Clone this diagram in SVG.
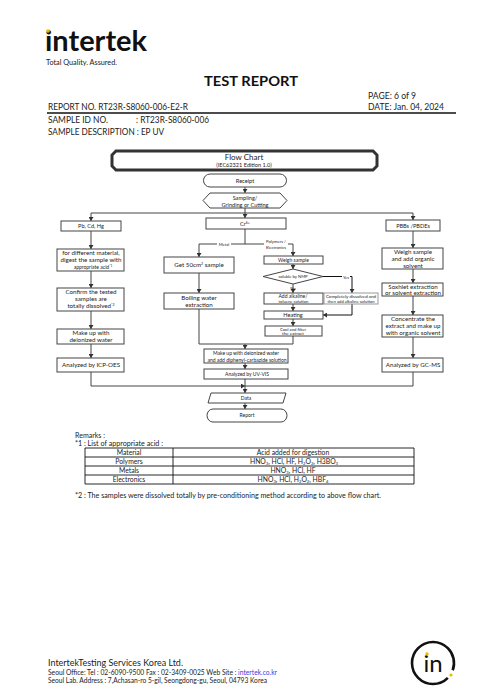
<svg xmlns="http://www.w3.org/2000/svg" width="500" height="700" viewBox="0 0 500 700">
<style>
text{font-family:Lato,"Open Sans",sans-serif;fill:#222}
.h{font-size:8.6px}
.l{font-size:6.2px;text-anchor:middle}
.m{font-size:5.6px;text-anchor:middle}
.s{font-size:5px;text-anchor:middle}
.xs{font-size:4.2px;text-anchor:middle}
.r{font-size:6.8px}
.f{font-size:6.6px}
.b{fill:#fff;stroke:#444;stroke-width:1}
.c{fill:none;stroke:#444;stroke-width:1}
.d{fill:none;stroke:#111;stroke-width:1}
.g{fill:none;stroke:#111;stroke-width:.9}
</style>
<defs>
<marker id="a" markerUnits="userSpaceOnUse" markerWidth="5" markerHeight="5" refX="4" refY="2.500" orient="auto"><path d="M0 0L4 2.500L0 5Z" fill="#333"/></marker>
</defs>
<rect width="500" height="700" fill="#fff"/>
<g id="header">
<text x="45" y="51" style="font-size:29px;font-weight:700;fill:#111" textLength="102" lengthAdjust="spacingAndGlyphs">intertek</text>
<circle cx="48" cy="31" r="1.800" fill="#f5b800"/>
<text x="46" y="64.500" style="font-size:6.800px" textLength="71" lengthAdjust="spacingAndGlyphs">Total Quality. Assured.</text>
<text x="204" y="86" style="font-size:14px;font-weight:700;fill:#111" textLength="94" lengthAdjust="spacingAndGlyphs">TEST REPORT</text>
<text x="368" y="99" class="h" textLength="48" lengthAdjust="spacingAndGlyphs">PAGE: 6 of 9</text>
<text x="368" y="110" class="h" textLength="76" lengthAdjust="spacingAndGlyphs">DATE: Jan. 04, 2024</text>
<text x="48" y="110" class="h" textLength="140" lengthAdjust="spacingAndGlyphs">REPORT NO. RT23R-S8060-006-E2-R</text>
<line x1="47" y1="113" x2="456" y2="113" stroke="#111" stroke-width="1.600"/>
<text x="48" y="123" class="h" textLength="60" lengthAdjust="spacingAndGlyphs">SAMPLE ID NO.</text>
<text x="136" y="123" class="h" textLength="73" lengthAdjust="spacingAndGlyphs">: RT23R-S8060-006</text>
<text x="48" y="135" class="h" textLength="116" lengthAdjust="spacingAndGlyphs">SAMPLE DESCRIPTION : EP UV</text>
</g>
<g id="connectors">
<path class="c" marker-end="url(#a)" d="M245 187V193"/>
<path class="c" d="M245 208V213"/>
<path class="c" marker-end="url(#a)" d="M245 213V218"/>
<path class="c" marker-end="url(#a)" d="M245 213H91V221"/>
<path class="c" marker-end="url(#a)" d="M245 213H413V220"/>
<path class="c" marker-end="url(#a)" d="M91 231V249"/>
<path class="c" marker-end="url(#a)" d="M91 271V288"/>
<path class="c" marker-end="url(#a)" d="M91 311V329"/>
<path class="c" marker-end="url(#a)" d="M91 344V358"/>
<path class="c" d="M245 229V244"/>
<path class="c" marker-end="url(#a)" d="M245 244H199V257"/>
<path class="c" marker-end="url(#a)" d="M245 244H293V256"/>
<path class="c" marker-end="url(#a)" d="M199 273V293"/>
<path class="c" marker-end="url(#a)" d="M199 309V344H245V349"/>
<path class="c" d="M293 336V344H245"/>
<path class="c" marker-end="url(#a)" d="M293 264V269"/>
<path class="c" marker-end="url(#a)" d="M293 284V293"/>
<path class="c" marker-end="url(#a)" d="M293 304V311"/>
<path class="c" marker-end="url(#a)" d="M293 319V326"/>
<path class="d" marker-end="url(#a)" d="M323 276.500H352V293"/>
<path class="d" marker-end="url(#a)" d="M352 304V315H323"/>
<path class="c" marker-end="url(#a)" d="M245 363V369"/>
<path class="c" marker-end="url(#a)" d="M245 379V393"/>
<path class="c" marker-end="url(#a)" d="M91 372V386H245"/>
<path class="c" d="M413 372V386H245"/>
<path class="c" marker-end="url(#a)" d="M245 403V409"/>
<path class="c" marker-end="url(#a)" d="M413 231V248"/>
<path class="c" marker-end="url(#a)" d="M413 269V283"/>
<path class="c" marker-end="url(#a)" d="M413 296V315"/>
<path class="c" marker-end="url(#a)" d="M413 337V358"/>
</g>
<g id="edge-labels">
<rect x="217" y="241" width="14" height="5" fill="#fff"/>
<text x="224" y="245.500" class="xs">Metal</text>
<rect x="264" y="239" width="24" height="10" fill="#fff"/>
<text x="276" y="243" class="xs">Polymers /</text>
<text x="276" y="248.500" class="xs">Electronics</text>
<rect x="342" y="274" width="8" height="5" fill="#fff"/>
<text x="346" y="278.500" class="xs">Yes</text>
<text x="293" y="289.500" class="xs">No</text>
</g>
<g id="n-title"><path d="M116 151H373L377 155V166L373 170H116L112 166V155Z" fill="#fff" stroke="#333" stroke-width="3"/><text x="244" y="160" style="font-size:8px;text-anchor:middle">Flow Chart</text><text x="244" y="167" class="m">(IEC62321 Edition 1.0)</text></g>
<g id="n-receipt"><path class="b" d="M210 174H280A6.500 6.500 0 0 1 280 187H210A6.500 6.500 0 0 1 210 174Z"/><text x="245" y="182.500" class="m">Receipt</text></g>
<g id="n-sampling"><path class="b" d="M210 193H280L287 200.500L280 208H210L203 200.500Z"/><text x="245" y="199.500" class="m">Sampling/</text><text x="245" y="206.500" class="m">Grinding or Cutting</text></g>
<g id="n-pb"><rect class="b" x="61" y="221" width="60" height="10"/><text x="91" y="228" class="m">Pb, Cd, Hg</text></g>
<g id="n-cr"><rect class="b" x="206" y="218" width="80" height="11"/><text x="245" y="225.500" class="m">Cr<tspan font-size="3.500" dy="-2">6+</tspan></text></g>
<g id="n-pbb"><rect class="b" x="386" y="220" width="54" height="11"/><text x="413" y="227.500" class="m">PBBs /PBDEs</text></g>
<g id="n-digest"><rect class="b" x="57" y="249" width="67" height="22"/><text x="91" y="255" class="l">for different material,</text><text x="91" y="262" class="l">digest the sample with</text><text x="93" y="269" class="s">appropriate acid<tspan font-size="3.200" dy="-2">*1</tspan></text></g>
<g id="n-confirm"><rect class="b" x="57" y="288" width="67" height="23"/><text x="91" y="294" class="l">Confirm the tested</text><text x="91" y="301" class="l">samples are</text><text x="91" y="308" class="l">totally dissolved<tspan font-size="3.500" dy="-2">*2</tspan></text></g>
<g id="n-makeup"><rect class="b" x="57" y="329" width="67" height="15"/><text x="91" y="335" class="l">Make up with</text><text x="91" y="342" class="l">deionized water</text></g>
<g id="n-icp"><rect class="b" x="57" y="358" width="67" height="14"/><text x="91" y="367" class="l">Analyzed by ICP-OES</text></g>
<g id="n-get"><rect class="b" x="164" y="257" width="70" height="16"/><text x="199" y="267" class="l">Get 50cm<tspan font-size="3.500" dy="-2">2</tspan><tspan dy="2"> sample</tspan></text></g>
<g id="n-boil"><rect class="b" x="164" y="293" width="70" height="16"/><text x="199" y="299.500" class="l">Boiling water</text><text x="199" y="306.500" class="l">extraction</text></g>
<g id="n-weigh"><rect class="b" x="264" y="256" width="59" height="8"/><text x="293.500" y="261.800" class="s">Weigh sample</text></g>
<g id="n-soluble"><path class="b" d="M293 269L323 276.500L293 284L263 276.500Z"/><text x="293" y="278" class="xs">soluble by NMP</text></g>
<g id="n-alk"><rect class="b" x="264" y="293" width="59" height="11"/><text x="293" y="298" class="s">Add alkaline/</text><text x="293.500" y="303" class="xs">toluene solution</text></g>
<g id="n-dissolved"><rect x="324" y="293" width="54" height="11" fill="#fff" stroke="#999"/><text x="351" y="298" class="s" style="font-size:4.500px">Completely dissolved and</text><text x="351" y="303" class="xs">then add alkaline solution</text></g>
<g id="n-heat"><rect class="b" x="264" y="311" width="59" height="8"/><text x="293" y="317" class="m">Heating</text></g>
<g id="n-cool"><rect class="b" x="265" y="326" width="57" height="10"/><text x="293" y="330.500" class="xs">Cool and filter</text><text x="293" y="335" class="s" style="font-size:4.600px">the extract</text></g>
<g id="n-dpc"><rect class="b" x="204" y="349" width="84" height="14"/><text x="246" y="355" class="s">Make up with deionized water</text><text x="247" y="361.500" class="s">and add diphenyl-carbazide solution</text></g>
<g id="n-uv"><rect class="b" x="204" y="369" width="84" height="10"/><text x="247" y="375.800" class="s">Analyzed by UV-VIS</text></g>
<g id="n-data"><path class="b" d="M211 393H286L283 403H208Z"/><text x="246" y="400" class="s">Data</text></g>
<g id="n-report"><path class="b" d="M213 409H281A6 6.500 0 0 1 281 422H213A6 6.500 0 0 1 213 409Z"/><text x="247" y="417" class="s">Report</text></g>
<g id="n-weigh2"><rect class="b" x="382" y="248" width="61" height="21"/><text x="413" y="253.500" class="l">Weigh sample</text><text x="413" y="260.500" class="l">and add organic</text><text x="413" y="267.500" class="l">solvent</text></g>
<g id="n-soxhlet"><rect class="b" x="382" y="283" width="61" height="13"/><text x="413" y="288.500" class="l">Soxhlet extraction</text><text x="413" y="294.500" class="l">or solvent extraction</text></g>
<g id="n-conc"><rect class="b" x="382" y="315" width="61" height="22"/><text x="413" y="320.500" class="l">Concentrate the</text><text x="413" y="327.500" class="l">extract and make up</text><text x="413" y="334.500" class="l">with organic solvent</text></g>
<g id="n-gc"><rect class="b" x="382" y="358" width="61" height="14"/><text x="413" y="367" class="l">Analyzed by GC-MS</text></g>
<g id="remarks">
<text x="75" y="438" class="r" textLength="30" lengthAdjust="spacingAndGlyphs">Remarks :</text>
<text x="75" y="446" class="r" textLength="88" lengthAdjust="spacingAndGlyphs">*1 : List of appropriate acid :</text>
<path class="g" d="M85 448H414M85 457H414M85 466H414M85 475H414M85 484H414M85 448V484M173 448V484M414 448V484"/>
<text x="129" y="455" class="r" text-anchor="middle">Material</text>
<text x="293" y="455" class="r" text-anchor="middle">Acid added for digestion</text>
<text x="129" y="464" class="r" text-anchor="middle">Polymers</text>
<text x="294" y="464" class="r" text-anchor="middle">HNO<tspan font-size="4.200" dy="1">3</tspan><tspan dy="-1">, HCl, HF, H</tspan><tspan font-size="4.200" dy="1">2</tspan><tspan dy="-1">O</tspan><tspan font-size="4.200" dy="1">2</tspan><tspan dy="-1">, H3BO</tspan><tspan font-size="4.200" dy="1">3</tspan></text>
<text x="129" y="473" class="r" text-anchor="middle">Metals</text>
<text x="293" y="473" class="r" text-anchor="middle">HNO<tspan font-size="4.200" dy="1">3</tspan><tspan dy="-1">, HCl, HF</tspan></text>
<text x="129" y="482" class="r" text-anchor="middle">Electronics</text>
<text x="293" y="482" class="r" text-anchor="middle">HNO<tspan font-size="4.200" dy="1">3</tspan><tspan dy="-1">, HCl, H</tspan><tspan font-size="4.200" dy="1">2</tspan><tspan dy="-1">O</tspan><tspan font-size="4.200" dy="1">2</tspan><tspan dy="-1">, HBF</tspan><tspan font-size="4.200" dy="1">4</tspan></text>
<text x="75" y="498" class="r" textLength="306" lengthAdjust="spacingAndGlyphs">*2 : The samples were dissolved totally by pre-conditioning method according to above flow chart.</text>
</g>
<g id="footer">
<text x="48" y="666" style="font-size:8.600px" textLength="135" lengthAdjust="spacingAndGlyphs">IntertekTesting Services Korea Ltd.</text>
<text x="48" y="674.500" class="f" textLength="229" lengthAdjust="spacingAndGlyphs">Seoul Office: Tel : 02-6090-9500  Fax : 02-3409-0025 Web Site : <tspan style="fill:#3a3ae0">intertek.co.kr</tspan></text>
<text x="48" y="683" class="f" textLength="219" lengthAdjust="spacingAndGlyphs">Seoul Lab. Address : 7,Achasan-ro 5-gil, Seongdong-gu, Seoul, 04793 Korea</text>
<circle cx="433" cy="663" r="21" fill="none" stroke="#111" stroke-width="2.600" stroke-dasharray="122 10" transform="rotate(45 433 663)"/>
<text x="433" y="672" text-anchor="middle" style="font-size:24px;fill:#111">in</text>
<circle cx="427" cy="654" r="1.700" fill="#f5b800"/>
<circle cx="451" cy="675" r="1.600" fill="#f5b800"/>
</g>
</svg>
